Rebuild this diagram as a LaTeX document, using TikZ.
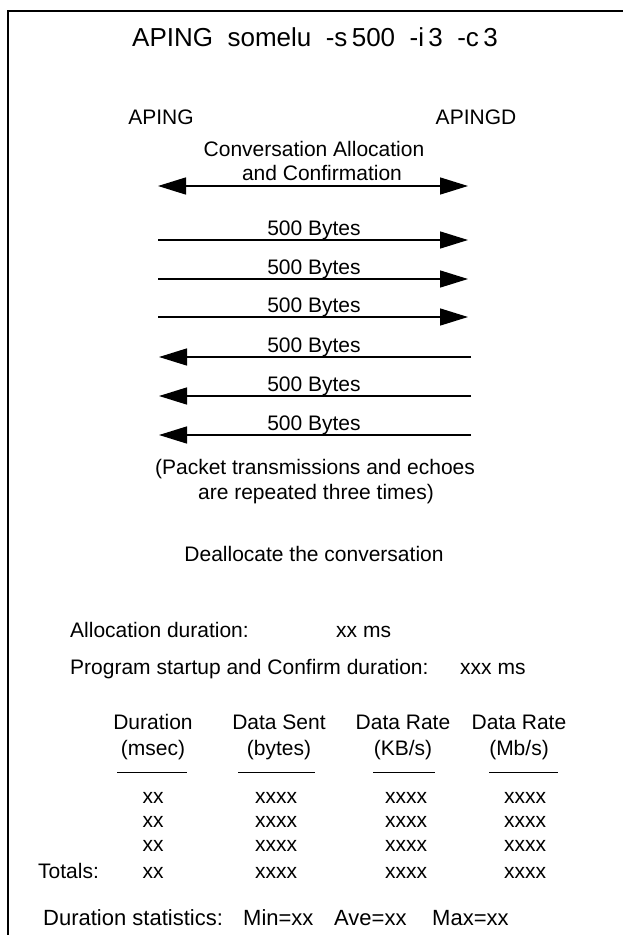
\documentclass[tikz,border=0pt]{standalone}
\usepackage{fontspec}
\setmainfont{Liberation Sans}
\usetikzlibrary{arrows.meta}

\begin{document}
\begin{tikzpicture}[x=1pt,y=-1pt,
  txt/.style={inner sep=0pt, anchor=base, font=\fontsize{21}{25}\selectfont},
  ltxt/.style={txt, anchor=base west},
  title/.style={txt, font=\fontsize{26}{30}\selectfont},
  head/.style={txt, font=\fontsize{21}{24}\selectfont},
  cell/.style={txt, font=\fontsize{21}{24}\selectfont},
  stat/.style={ltxt, font=\fontsize{22}{26}\selectfont},
  msg/.style={line width=1.5pt, -{Triangle[length=28pt,width=17pt]}},
  duplex/.style={line width=1.5pt, {Triangle[length=28pt,width=17pt]}-{Triangle[length=28pt,width=17pt]}},
  hrule/.style={line width=0.9pt},
  frame/.style={line width=1.6pt}]

\useasboundingbox (0,0) rectangle (623,935);
\fill[white] (0,0) rectangle (623,935);

% open frame: top edge and left edge
\coordinate (ftr) at (623,11);
\coordinate (ftl) at (8,11);
\coordinate (fbl) at (8,935);
\draw[frame] (ftr) -- (ftl) -- (fbl);

% command line
\node[title] (cmd) at (315,46) {APING\ \ somelu\ \ -s\,500\ \ -i\,3\ \ -c\,3};

% partners
\node[txt] (aping) at (161,124) {APING};
\node[txt] (apingd) at (476,124) {APINGD};

% allocation handshake
\node[txt] (alloc1) at (314,156) {Conversation Allocation};
\node[txt] (alloc2) at (322,180) {and Confirmation};
\coordinate (dl) at (158,186);
\coordinate (dr) at (468,186);
\draw[duplex] (dl) -- (dr);

% data packets and echoes
\foreach \i/\y in {1/240,2/279,3/317} {
  \coordinate (sl\i) at (158,\y);
  \coordinate (sr\i) at (468,\y);
  \node[txt] (sb\i) at (314,\y-5) {500 Bytes};
  \draw[msg] (sl\i) -- (sr\i);
}
\foreach \i/\y in {4/357,5/396,6/435} {
  \coordinate (sl\i) at (159,\y);
  \coordinate (sr\i) at (471,\y);
  \node[txt] (sb\i) at (314,\y-5) {500 Bytes};
  \draw[msg] (sr\i) -- (sl\i);
}

\node[txt] (note1) at (315,474) {(Packet transmissions and echoes};
\node[txt] (note2) at (316,499) {are repeated three times)};

\node[txt] (dealloc) at (314,561) {Deallocate the conversation};

% timing summary
\node[ltxt] (allocdur) at (70,637) {Allocation duration:};
\node[ltxt] (allocval) at (336,637) {xx ms};
\node[ltxt] (startdur) at (70,674) {Program startup and Confirm duration:};
\node[ltxt] (startval) at (460,674) {xxx ms};

% table header
\foreach \c/\x/\a/\b in {1/153/Duration/{(msec)}, 2/279/Data Sent/{(bytes)}, 3/403/Data Rate/{(KB/s)}, 4/519/Data Rate/{(Mb/s)}} {
  \node[head] (ha\c) at (\x,729) {\a};
  \node[head] (hb\c) at (\x,755) {\b};
}
\foreach \c/\l/\r in {1/117/187, 2/238/315, 3/373/435, 4/489/558} {
  \coordinate (ul\c) at (\l,772);
  \coordinate (ur\c) at (\r,772);
  \draw[hrule] (ul\c) -- (ur\c);
}

% table body
\foreach \r/\y in {1/803,2/827,3/851,4/878} {
  \node[cell] (c1\r) at (153,\y) {xx};
  \node[cell] (c2\r) at (276,\y) {xxxx};
  \node[cell] (c3\r) at (406,\y) {xxxx};
  \node[cell] (c4\r) at (525,\y) {xxxx};
}
\node[ltxt] (totals) at (38,878) {Totals:};

% statistics line
\node[stat] (stats) at (43,925) {Duration statistics:};
\node[stat] (smin) at (243,925) {Min=xx};
\node[stat] (save) at (334,925) {Ave=xx};
\node[stat] (smax) at (432,925) {Max=xx};
\end{tikzpicture}
\end{document}
